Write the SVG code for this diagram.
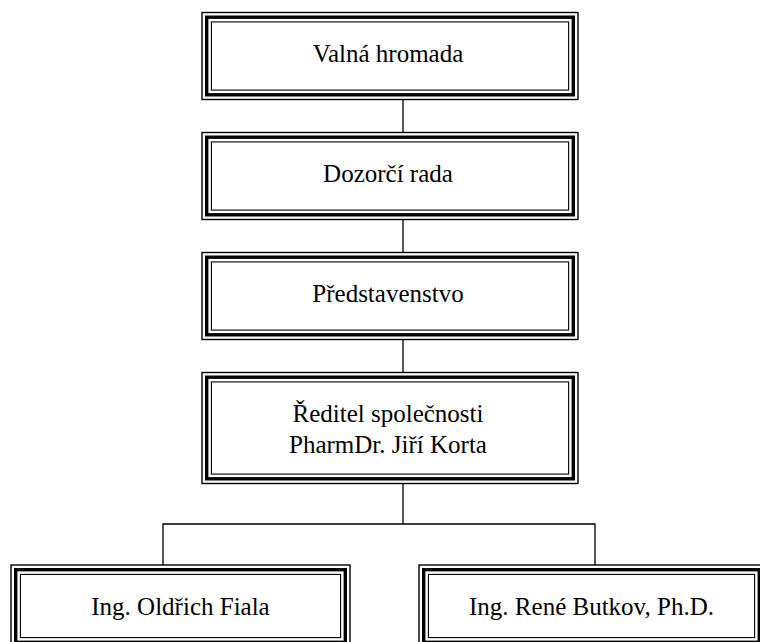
<svg xmlns="http://www.w3.org/2000/svg" width="760" height="642" viewBox="0 0 760 642">
<style>
.o{fill:#fff;stroke:#000;stroke-width:1.4}
.t{fill:none;stroke:#000;stroke-width:3.4}
.i{fill:none;stroke:#000;stroke-width:1.1}
.c{fill:none;stroke:#000;stroke-width:1.3}
text{font-family:"Liberation Serif","Times New Roman",serif;font-size:25px;fill:#000;text-anchor:middle}
</style>
<rect width="760" height="642" fill="#fff"/>
<g id="connectors">
<line class="c" x1="403" y1="99.5" x2="403" y2="132.5"/>
<line class="c" x1="403" y1="219.5" x2="403" y2="252.5"/>
<line class="c" x1="403" y1="339.5" x2="403" y2="372.5"/>
<polyline class="c" points="403,483.5 403,524"/>
<polyline class="c" points="163,565 163,524 595,524 595,565"/>
</g>
<g id="valna">
<rect class="o" x="202" y="12.5" width="376" height="87"/>
<rect class="t" x="206.7" y="17.2" width="366.6" height="77.6"/>
<rect class="i" x="211.4" y="21.9" width="357.2" height="68.2"/>
<text x="388" y="62">Valná hromada</text>
</g>
<g id="dozorci">
<rect class="o" x="202" y="132.5" width="376" height="87"/>
<rect class="t" x="206.7" y="137.2" width="366.6" height="77.6"/>
<rect class="i" x="211.4" y="141.9" width="357.2" height="68.2"/>
<text x="388" y="182">Dozorčí rada</text>
</g>
<g id="predstavenstvo">
<rect class="o" x="202" y="252.5" width="376" height="87"/>
<rect class="t" x="206.7" y="257.2" width="366.6" height="77.6"/>
<rect class="i" x="211.4" y="261.9" width="357.2" height="68.2"/>
<text x="388" y="302">Představenstvo</text>
</g>
<g id="reditel">
<rect class="o" x="202" y="372.5" width="376" height="111"/>
<rect class="t" x="206.7" y="377.2" width="366.6" height="101.6"/>
<rect class="i" x="211.4" y="381.9" width="357.2" height="92.2"/>
<text x="388" y="422">Ředitel společnosti</text>
<text x="388" y="453">PharmDr. Jiří Korta</text>
</g>
<g id="fiala">
<rect class="o" x="11" y="565" width="339" height="82"/>
<rect class="t" x="15.7" y="569.7" width="329.6" height="72.6"/>
<rect class="i" x="20.4" y="574.4" width="320.2" height="63.2"/>
<text x="180.5" y="615">Ing. Oldřich Fiala</text>
</g>
<g id="butkov">
<rect class="o" x="419" y="565" width="345" height="82"/>
<rect class="t" x="423.7" y="569.7" width="335.6" height="72.6"/>
<rect class="i" x="428.4" y="574.4" width="326.2" height="63.2"/>
<text x="591.5" y="615">Ing. René Butkov, Ph.D.</text>
</g>
</svg>
